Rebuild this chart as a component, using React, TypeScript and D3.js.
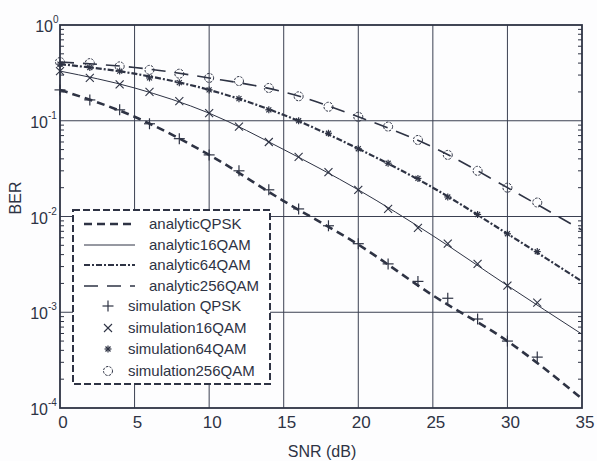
import React from "react";
import * as d3 from "d3";

const snrLine = [0, 5, 10, 15, 20, 25, 30, 35];
const anaQPSK = [0.21, 0.11, 0.044, 0.0145, 0.0051, 0.0015, 0.0005, 0.000125];
const ana16 = [0.33, 0.22, 0.12, 0.05, 0.019, 0.0063, 0.0019, 0.00059];
const ana64 = [0.39, 0.31, 0.21, 0.115, 0.051, 0.02, 0.0066, 0.0021];
const ana256 = [0.41, 0.36, 0.28, 0.2, 0.11, 0.053, 0.02, 0.0072];

const snrSim = [0, 2, 4, 6, 8, 10, 12, 14, 16, 18, 20, 22, 24, 26, 28, 30, 32];
const simQPSK = [0.21, 0.165, 0.13, 0.093, 0.065, 0.044, 0.03, 0.019, 0.012, 0.008, 0.0052, 0.0032, 0.0021, 0.0014, 0.00085, 0.0005, 0.00034];
const sim16 = [0.33, 0.28, 0.24, 0.2, 0.16, 0.12, 0.087, 0.06, 0.042, 0.029, 0.019, 0.012, 0.0076, 0.0052, 0.0032, 0.0019, 0.00126];
const sim64 = [0.39, 0.36, 0.33, 0.28, 0.25, 0.21, 0.17, 0.13, 0.1, 0.074, 0.051, 0.036, 0.025, 0.016, 0.0105, 0.0066, 0.0043];
const sim256 = [0.41, 0.4, 0.37, 0.34, 0.31, 0.28, 0.26, 0.22, 0.18, 0.14, 0.11, 0.087, 0.063, 0.044, 0.03, 0.02, 0.014];

const xTicks = [0, 5, 10, 15, 20, 25, 30, 35];
const yExps = [0, -1, -2, -3, -4];

const analyticLabels = ["analyticQPSK", "analytic16QAM", "analytic64QAM", "analytic256QAM"];
const simLabels = ["simulation QPSK", "simulation16QAM", "simulation64QAM", "simulation256QAM"];

const W = 597, H = 461;
const L = 60, R = 582, T = 25, B = 408;
const INK = "#2e3344";
const FONT = "'Liberation Sans', Arial, sans-serif";

const x = d3.scaleLinear().domain([0, 35]).range([L, R]);
const y = d3.scaleLog().domain([1e-4, 1]).range([B, T]);

const lineGen = d3
  .line<[number, number]>()
  .x((d) => x(d[0]))
  .y((d) => y(d[1]))
  .curve(d3.curveMonotoneX);

const styles = [
  { w: 2.6, dash: "8,5" },
  { w: 1, dash: "none" },
  { w: 2.2, dash: "6,2,2,2" },
  { w: 1.6, dash: "14,9" },
];

function Marker({ kind, cx, cy }: { kind: number; cx: number; cy: number }) {
  if (kind === 0) {
    return (
      <g stroke={INK} strokeWidth={1.2}>
        <line x1={cx - 5.5} x2={cx + 5.5} y1={cy} y2={cy} />
        <line x1={cx} x2={cx} y1={cy - 5.5} y2={cy + 5.5} />
      </g>
    );
  }
  if (kind === 1) {
    return (
      <g stroke={INK} strokeWidth={1.1}>
        <line x1={cx - 4} x2={cx + 4} y1={cy - 4} y2={cy + 4} />
        <line x1={cx - 4} x2={cx + 4} y1={cy + 4} y2={cy - 4} />
      </g>
    );
  }
  if (kind === 2) {
    return (
      <g stroke={INK} strokeWidth={1.2}>
        <line x1={cx - 3.5} x2={cx + 3.5} y1={cy} y2={cy} />
        <line x1={cx} x2={cx} y1={cy - 3.5} y2={cy + 3.5} />
        <line x1={cx - 2.5} x2={cx + 2.5} y1={cy - 2.5} y2={cy + 2.5} />
        <line x1={cx - 2.5} x2={cx + 2.5} y1={cy + 2.5} y2={cy - 2.5} />
      </g>
    );
  }
  return <circle cx={cx} cy={cy} r={4.5} fill="none" stroke={INK} strokeWidth={1} strokeDasharray="2.5,1.2" />;
}

export default function App() {
  const analytic = [anaQPSK, ana16, ana64, ana256];
  const sims = [simQPSK, sim16, sim64, sim256];
  const minor: number[] = [];
  for (let e = -4; e < 0; e++) for (let k = 2; k <= 9; k++) minor.push(k * Math.pow(10, e));

  const legX = 73, legY = 210, legW = 197, legH = 174;
  const rowsA = [224, 245, 265, 286];
  const rowsS = [306, 328, 349, 371];

  return (
    <svg width={W} height={H} style={{ position: "absolute", left: 0, top: 0, background: "#fff" }} fontFamily={FONT}>
      <rect x={0} y={0} width={W} height={H} fill="#fdfdfe" />
      {/* grid */}
      <g stroke="#3b4052" strokeWidth={1}>
        {xTicks.slice(1, -1).map((t) => (
          <line key={"gx" + t} x1={x(t)} x2={x(t)} y1={T} y2={B} />
        ))}
        {yExps.slice(1, -1).map((e) => (
          <line key={"gy" + e} x1={L} x2={R} y1={y(Math.pow(10, e))} y2={y(Math.pow(10, e))} />
        ))}
      </g>
      {/* minor ticks */}
      <g stroke={INK} strokeWidth={1}>
        {minor.map((v, i) => (
          <g key={"m" + i}>
            <line x1={L} x2={L + 4} y1={y(v)} y2={y(v)} />
            <line x1={R} x2={R - 4} y1={y(v)} y2={y(v)} />
          </g>
        ))}
      </g>
      {/* analytic lines */}
      {analytic.map((vals, i) => (
        <path
          key={"a" + i}
          d={lineGen(snrLine.map((s, j) => [s, vals[j]] as [number, number])) || ""}
          fill="none"
          stroke={INK}
          strokeWidth={styles[i].w}
          strokeDasharray={styles[i].dash}
        />
      ))}
      {/* sim markers */}
      {sims.map((vals, i) => (
        <g key={"s" + i}>
          {snrSim.map((s, j) => (
            <Marker key={j} kind={i} cx={x(s)} cy={y(vals[j])} />
          ))}
        </g>
      ))}
      {/* frame */}
      <rect x={L} y={T} width={R - L} height={B - T} fill="none" stroke={INK} strokeWidth={1.8} />
      {/* x tick labels */}
      <g fontSize={17} fill={INK} textAnchor="middle">
        {xTicks.map((t) => (
          <text key={"xt" + t} x={x(t) + 3} y={428}>
            {t}
          </text>
        ))}
      </g>
      {/* y tick labels */}
      <g fill={INK}>
        {yExps.map((e) => {
          const yy = y(Math.pow(10, e));
          return (
            <g key={"yt" + e}>
              <text x={e < 0 ? 48 : 53} y={yy + 7} fontSize={16} textAnchor="end">
                10
              </text>
              <text x={e < 0 ? 48 : 53} y={yy - 2} fontSize={10} textAnchor="start">
                {e}
              </text>
            </g>
          );
        })}
      </g>
      {/* axis labels */}
      <text x={322} y={457} fontSize={16} fill={INK} textAnchor="middle">
        SNR (dB)
      </text>
      <text transform="translate(21,198) rotate(-90)" fontSize={16} fill={INK} textAnchor="middle">
        BER
      </text>
      {/* legend */}
      <rect x={legX} y={legY} width={legW} height={legH} fill="#fff" stroke={INK} strokeWidth={2} strokeDasharray="7,3" />
      {analyticLabels.map((lab, i) => (
        <g key={"la" + i}>
          <line
            x1={84}
            x2={135}
            y1={rowsA[i]}
            y2={rowsA[i]}
            stroke={INK}
            strokeWidth={styles[i].w}
            strokeDasharray={styles[i].dash}
          />
          <text x={149} y={rowsA[i] + 5} fontSize={15} fill={INK}>
            {lab}
          </text>
        </g>
      ))}
      {simLabels.map((lab, i) => (
        <g key={"ls" + i}>
          <Marker kind={i} cx={108} cy={rowsS[i]} />
          <text x={128} y={rowsS[i] + 5} fontSize={15} fill={INK}>
            {lab}
          </text>
        </g>
      ))}
    </svg>
  );
}
